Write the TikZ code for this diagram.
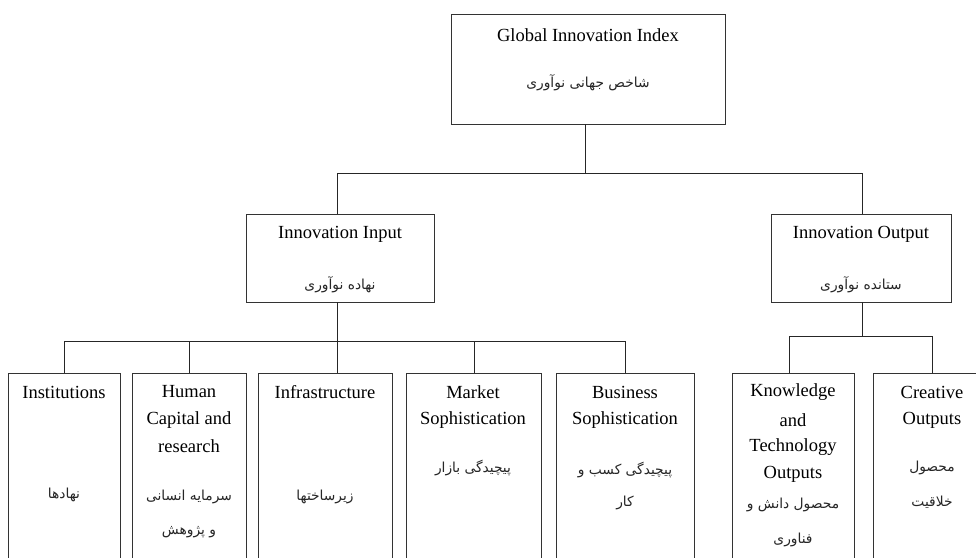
\documentclass[tikz,border=0pt]{standalone}
\usepackage{fontspec}
\setmainfont{Liberation Serif}
\newfontfamily\fafont[Script=Arabic]{DejaVu Sans}
\TeXXeTstate=1
\newcommand{\fa}[1]{{\fafont\fontsize{13.8}{16}\selectfont\beginR #1\endR}}
\begin{document}
\begin{tikzpicture}[x=1pt,y=-1pt,
  box/.style={draw=black!80,line width=0.9pt,anchor=north west,inner sep=0pt},
  en/.style={inner sep=0pt,font=\fontsize{18.5}{22}\selectfont,text=black},
  pf/.style={inner sep=0pt,text=black!85},
  wire/.style={draw=black!85,line width=0.9pt}]
\useasboundingbox (0,0) rectangle (976,557);
\clip (0,0) rectangle (976,557);
\fill[white] (0,0) rectangle (976,557);
% boxes
\node[box,minimum width=274pt,minimum height=110pt] (gii) at (451,14) {};
\node[box,minimum width=188pt,minimum height=88pt] (inp) at (246,214) {};
\node[box,minimum width=180pt,minimum height=88pt] (outp) at (771,214) {};
\node[box,minimum width=112pt,minimum height=260pt] (inst) at (8,373) {};
\node[box,minimum width=114pt,minimum height=260pt] (hum) at (132,373) {};
\node[box,minimum width=134pt,minimum height=260pt] (infra) at (258,373) {};
\node[box,minimum width=135pt,minimum height=260pt] (mkt) at (406,373) {};
\node[box,minimum width=138pt,minimum height=260pt] (bus) at (556,373) {};
\node[box,minimum width=122pt,minimum height=260pt] (know) at (732,373) {};
\node[box,minimum width=118pt,minimum height=260pt] (crea) at (873,373) {};
% texts
\node[en] (t1) at (588,35) {Global Innovation Index};
\node[pf] (t2) at (588,83) {\fa{شاخص جهانی نوآوری}};
\node[en] (t3) at (340,234) {Innovation Input};
\node[pf] (t4) at (340,285) {\fa{نهاده نوآوری}};
\node[en] (t5) at (861,234) {Innovation Output};
\node[pf] (t6) at (861,285) {\fa{ستانده نوآوری}};
\node[en] (a1) at (64,392) {Institutions};
\node[pf] (a2) at (64,495) {\fa{نهادها}};
\node[en] (b1) at (189,392) {Human};
\node[en] (b2) at (189,420) {Capital and};
\node[en] (b3) at (189,446) {research};
\node[pf] (b4) at (189,497) {\fa{سرمایه انسانی}};
\node[pf] (b5) at (189,532) {\fa{و پژوهش}};
\node[en] (c1) at (325,392) {Infrastructure};
\node[pf] (c2) at (325,497) {\fa{زیرساختها}};
\node[en] (d1) at (473,392) {Market};
\node[en] (d2) at (473,420) {Sophistication};
\node[pf] (d3) at (473,468) {\fa{پیچیدگی بازار}};
\node[en] (e1) at (625,392) {Business};
\node[en] (e2) at (625,420) {Sophistication};
\node[pf] (e3) at (625,470) {\fa{پیچیدگی کسب و}};
\node[pf] (e4) at (625,503) {\fa{کار}};
\node[en] (f1) at (793,392) {Knowledge};
\node[en] (f2) at (793,420) {and};
\node[en] (f3) at (793,447) {Technology};
\node[en] (f4) at (793,474) {Outputs};
\node[pf] (f5) at (793,505) {\fa{محصول دانش و}};
\node[pf] (f6) at (793,540) {\fa{فناوری}};
\node[en] (g1) at (932,392) {Creative};
\node[en] (g2) at (932,420) {Outputs};
\node[pf] (g3) at (932,468) {\fa{محصول}};
\node[pf] (g4) at (932,502) {\fa{خلاقیت}};
% connectors
\coordinate (j0) at (585,173);
\coordinate (g0) at (585,124);
\draw[wire] (g0) -- (j0);
\draw[wire] (j0) -| (inp.north -| 337,0);
\draw[wire] (j0) -| (outp.north -| 862,0);
\coordinate (j1) at (337,341);
\coordinate (i0) at (337,302);
\draw[wire] (i0) -- (j1);
\draw[wire] (j1) -| (inst.north);
\draw[wire] (j1) -| (bus.north);
\draw[wire] (hum.north |- j1) -- (hum.north);
\draw[wire] (mkt.north |- j1) -- (mkt.north);
\draw[wire] (j1) -- (j1 |- infra.north);
\coordinate (j2) at (862,336);
\coordinate (o0) at (862,302);
\draw[wire] (o0) -- (j2);
\draw[wire] (j2) -| (789,373);
\draw[wire] (j2) -| (932,373);
\end{tikzpicture}
\end{document}
